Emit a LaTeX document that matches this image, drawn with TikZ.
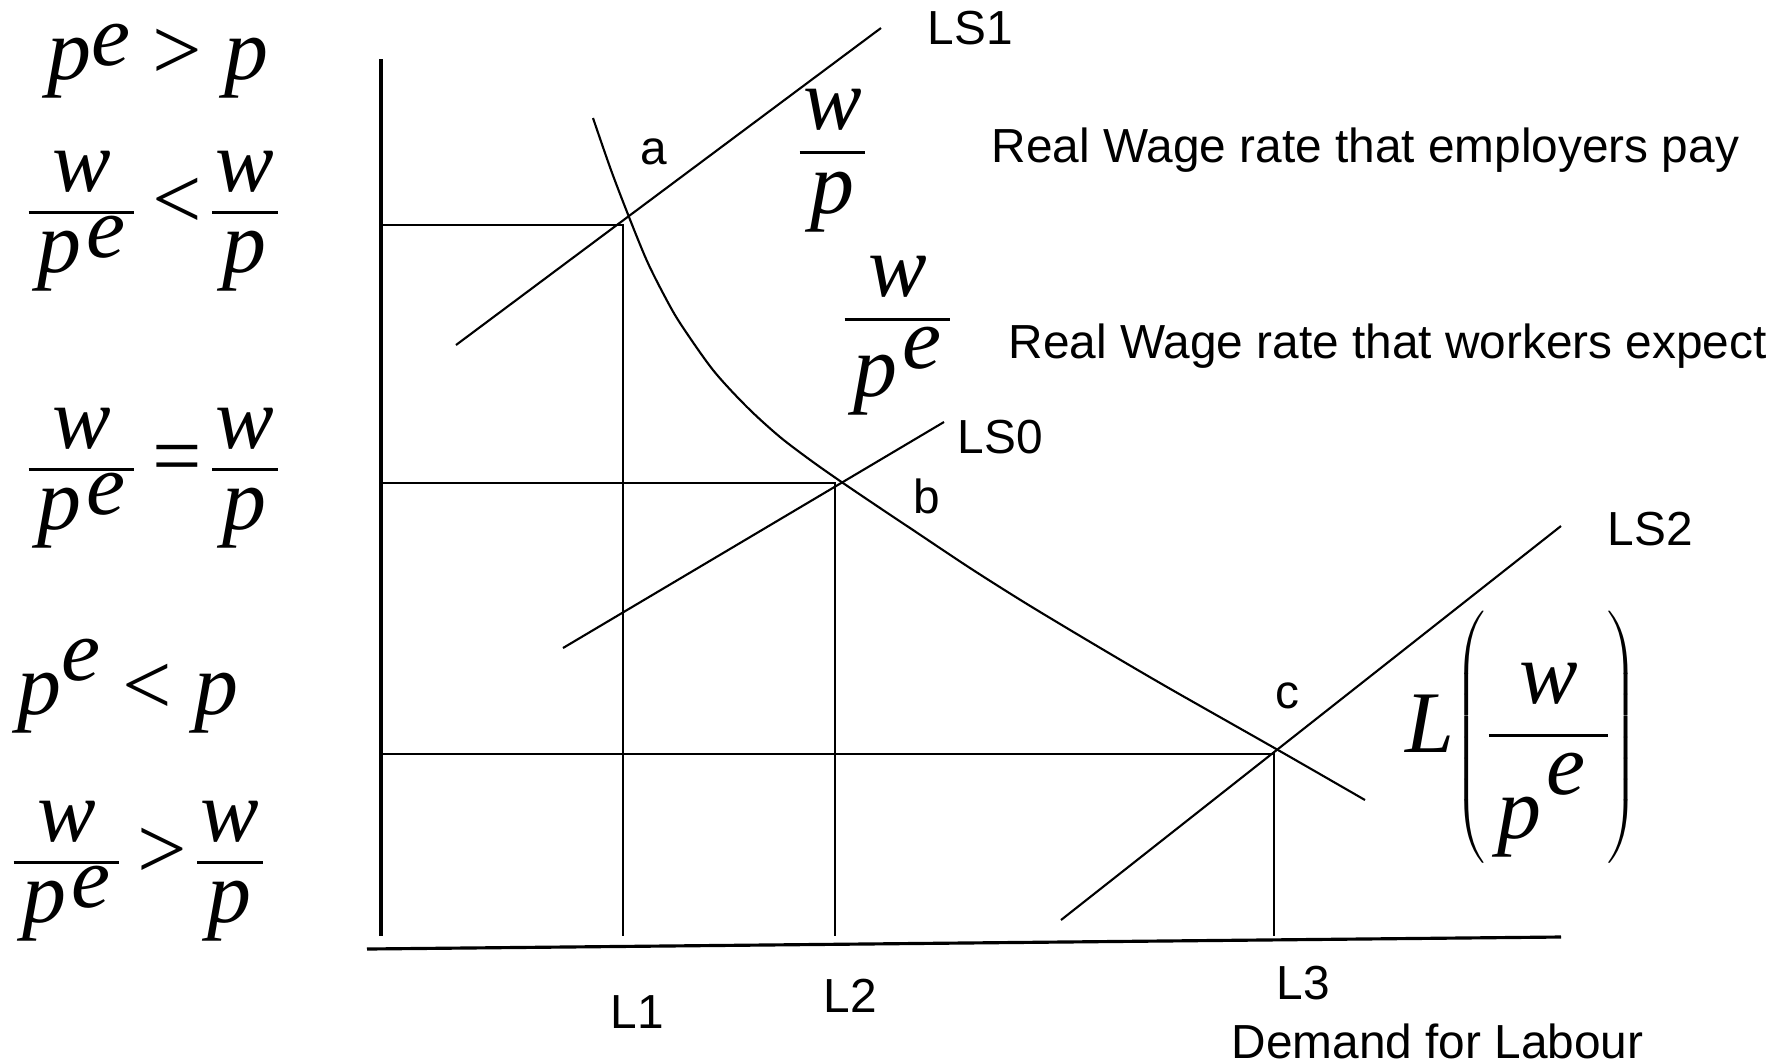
\documentclass[tikz,border=0pt]{standalone}
\usepackage{fontspec}
\setmainfont{Liberation Sans}
\newfontfamily\tnr{Liberation Serif}
\usetikzlibrary{positioning,calc}

\newlength\fracwd
\newlength\fracdn
\newcommand{\mi}[1]{{\tnr\itshape #1}}
\NewDocumentCommand{\pe}{O{.16em}}{\kern.06em\mi{p}\kern.06em\raisebox{#1}{\mi{e}}\kern.06em}
% fraction whose baseline is the bar: [gap above][gap below]{num}{den}
\NewDocumentCommand{\fr}{O{.21em} O{.21em} m m}{%
  \settowidth\fracwd{#3}\settowidth\fracdn{#4}%
  \ifdim\fracdn>\fracwd\fracwd=\fracdn\fi
  \addtolength\fracwd{.08em}%
  \vtop{\offinterlineskip
    \vbox{\hbox to\fracwd{\hss#3\hss}\kern#1\hrule height 1pt}%
    \kern#2\hbox to\fracwd{\hss\raisebox{0pt}[.45em]{#4}\hss}}}
\newcommand{\rel}[1]{\kern.2em\raisebox{-.17em}{#1}\kern.12em}

\begin{document}
\begin{tikzpicture}[
  x=0.1mm,y=-0.1mm,
  axis/.style={draw=black, line width=0.9pt},
  guide/.style={draw=black, line width=0.6pt},
  supply/.style={draw=black, line width=0.6pt},
  demand/.style={draw=black, line width=0.6pt},
  txt/.style={font=\fontsize{13.6}{16}\selectfont, inner sep=0pt, anchor=base west},
  formula/.style={font=\fontsize{25}{30}\selectfont\tnr, inner sep=0pt, anchor=base west}
]
\useasboundingbox (0,0) rectangle (1787,1063);

% Left: price expectations
\node[formula] (pegt) at (47,79) {\mi{p}\raisebox{.15em}{\mi{e}} > \mi{p}};
\node[formula] (fraclt) at (28,214) {\fr{\mi{w}}{\pe}\rel{<}\fr{\mi{w}}{\mi{p}}};
\node[formula] (fraceq) at (28,471) {\fr{\mi{w}}{\pe}\rel{=}\fr{\mi{w}}{\mi{p}}};
\node[formula] (pelt) at (17,714) {\mi{p}\raisebox{.38em}{\mi{e}} < \mi{p}};
\node[formula] (fracgt) at (13,864) {\fr{\mi{w}}{\pe}\rel{>}\fr{\mi{w}}{\mi{p}}};

% ================= Axes =================
\coordinate (ytop) at (381,59);
\coordinate (ybot) at (381,936);
\coordinate (xleft) at (367,949);
\coordinate (xright) at (1561,937);
\draw[axis] (ytop) -- (ybot);
\draw[axis] (xleft) -- (xright);

% ================= Equilibria =================
\coordinate (a) at (623,225);
\coordinate (b) at (835,483);
\coordinate (c) at (1274,754);
\draw[guide] (ytop|-a) -- (a) -- (a|-ybot);
\draw[guide] (ytop|-b) -- (b) -- (b|-ybot);
\draw[guide] (ytop|-c) -- (c) -- (c|-ybot);

% labour supply curves
\coordinate (lsonefrom) at (456,345);
\coordinate (lsoneto) at (881,28);
\coordinate (lszerofrom) at (563,648);
\coordinate (lszeroto) at (944,422);
\coordinate (lstwofrom) at (1061,920);
\coordinate (lstwoto) at (1561,526);
\draw[supply] (lsonefrom) -- (lsoneto);
\draw[supply] (lszerofrom) -- (lszeroto);
\draw[supply] (lstwofrom) -- (lstwoto);

% labour demand
\draw[demand] plot[smooth, tension=0.5] coordinates {
  (593,118) (611,170) (629,217) (647,261) (664,295) (680,323)
  (713,370) (747,407) (780,437) (813,462) (843,483) (880,508)
  (913,530) (970,568) (1027,604) (1097,646) (1167,687) (1278,750)
  (1365,800)};

% ================= Labels =================
\node[txt] (lsone) at (927,44) {LS1};
\node[txt] (lszero) at (957,453) {LS0};
\node[txt] (lstwo) at (1607,545) {LS2};
\node[txt] (pta) at (640,164) {a};
\node[txt] (ptb) at (913,513) {b};
\node[txt] (ptc) at (1275,708) {c};
\node[txt] (lone) at (610,1028) {L1};
\node[txt] (ltwo) at (823,1012) {L2};
\node[txt] (lthree) at (1276,999) {L3};
\node[txt] (dlab) at (1231,1058) {Demand for Labour};
\node[txt] (paid) at (991,162) {Real Wage rate that employers pay};
\node[txt] (expect) at (1008,358) {Real Wage rate that workers expect};

\node[formula] (wp) at (799,154) {\fr[.23em][.23em]{\mi{w}}{\mi{p}}};
\node[formula] (wpe) at (844,321) {\fr[.23em][.41em]{\mi{w}}{\pe[.32em]}};

% demand function
\node[formula] (Lfun) at (1405,759)
  {\raisebox{.07em}{\mi{L}}$\left(\kern.04em\raisebox{.25em}{\fr[.33em][.7em]{\mi{w}}{\pe[.5em]\hspace{.15em}}}\vcenter{\hrule height 3em width 0pt}\right)$};
\end{tikzpicture}
\end{document}
